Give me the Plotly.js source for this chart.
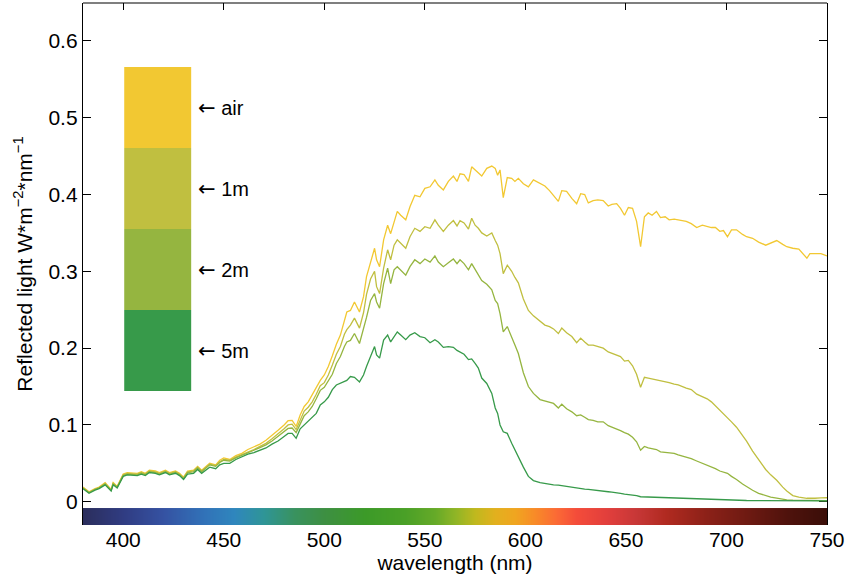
<!DOCTYPE html>
<html>
<head>
<meta charset="utf-8">
<script src="https://cdn.plot.ly/plotly-3.0.1.min.js"></script>
<style>html,body{margin:0;padding:0;background:#fff;}#chart{width:848px;height:584px;}</style>
</head>
<body>
<div id="chart"></div>
<script>
// wavelength samples (nm)
const wavelength = [380,383,386,388,391,394,395,397,400,402,407,409,411,413,416,418,421,423,426,428,430,432,435,437,439,441,443,446,448,450,
453,456,459,462,465,468,471,474,477,480,482,484,486,488,490,492,494,496,498,500,502,504,
506,508,510,511.2,513,515,517.5,519.5,521,523,525,526,527.5,529.5,531.5,533,534.7,536.3,538,540.5,542.6,545,547.6,550,552.6,
555,556.7,559.2,561.7,564.2,566,567.5,569.5,571.7,573.3,575,576.6,578.3,580.8,583.3,585,586.2,587.4,589,591,593.2,594.8,596.5,599,601.5,604,607.3,
609.7,612,614,616.4,618.1,620.5,623.1,625.5,627.5,629.5,631.3,633.7,636,638.7,641.2,643,645.4,647.3,649.3,651.2,
653.3,655.3,657.3,659.2,661.1,663,665.2,667.2,669.5,671.5,674,676,680,682.5,685.2,688,690.4,692.5,694.5,696.7,
698.5,700.5,702.5,705,708,710,713,716,719.5,722,725,728,730,733,736,740,741.5,744,747,750];

const airValues = [0.019,0.013,0.017,0.019,0.025,0.016,0.025,0.020,0.036,0.038,0.037,0.039,0.037,0.041,0.040,0.038,0.041,0.038,0.040,0.037,0.032,0.040,0.041,0.046,0.041,0.046,0.050,0.048,0.054,0.057,
0.055,0.060,0.063,0.068,0.071,0.075,0.080,0.086,0.093,0.100,0.1055,0.106,0.098,0.113,0.124,0.130,0.139,0.148,0.158,0.165,0.176,0.190,
0.205,0.217,0.237,0.247,0.249,0.260,0.247,0.267,0.293,0.310,0.330,0.315,0.306,0.341,0.360,0.349,0.365,0.378,0.373,0.367,0.384,0.399,0.397,0.408,0.410,
0.419,0.412,0.406,0.417,0.424,0.417,0.427,0.426,0.417,0.436,0.432,0.428,0.424,0.434,0.437,0.434,0.425,0.432,0.396,0.422,0.421,0.417,0.421,0.414,0.410,0.419,0.414,
0.411,0.405,0.399,0.391,0.405,0.404,0.395,0.388,0.401,0.400,0.389,0.392,0.393,0.392,0.385,0.387,0.388,0.382,0.373,0.383,
0.382,0.365,0.332,0.371,0.376,0.373,0.378,0.370,0.371,0.367,0.368,0.367,0.365,0.362,0.357,0.360,0.358,0.357,0.357,0.352,
0.353,0.345,0.354,0.354,0.348,0.345,0.343,0.338,0.334,0.337,0.340,0.335,0.332,0.330,0.329,0.317,0.323,0.323,0.323,0.320];

const oneMValues = [0.018,0.012,0.016,0.018,0.024,0.015,0.024,0.019,0.035,0.037,0.036,0.038,0.036,0.040,0.039,0.037,0.040,0.037,0.039,0.036,0.031,0.039,0.040,0.045,0.040,0.045,0.049,0.047,0.052,0.055,
0.054,0.058,0.061,0.065,0.068,0.072,0.076,0.082,0.088,0.095,0.100,0.101,0.094,0.106,0.118,0.123,0.130,0.140,0.151,0.155,0.165,0.178,
0.192,0.202,0.218,0.224,0.230,0.239,0.226,0.246,0.270,0.290,0.300,0.280,0.271,0.304,0.328,0.315,0.334,0.341,0.337,0.330,0.345,0.356,0.352,0.358,0.356,
0.367,0.360,0.352,0.360,0.366,0.359,0.366,0.363,0.355,0.369,0.360,0.356,0.350,0.346,0.350,0.340,0.334,0.323,0.297,0.308,0.300,0.292,0.285,0.264,0.249,0.242,0.235,
0.230,0.228,0.225,0.219,0.226,0.220,0.215,0.207,0.213,0.208,0.204,0.204,0.202,0.200,0.195,0.193,0.191,0.189,0.183,0.184,
0.177,0.166,0.149,0.162,0.161,0.160,0.159,0.157,0.156,0.155,0.153,0.152,0.148,0.146,0.140,0.137,0.134,0.130,0.125,0.119,
0.114,0.110,0.104,0.097,0.087,0.079,0.066,0.055,0.042,0.035,0.028,0.019,0.014,0.008,0.006,0.0045,0.0044,0.0045,0.005,0.0052];

const twoMValues = [0.018,0.012,0.016,0.018,0.023,0.015,0.023,0.019,0.034,0.036,0.035,0.037,0.035,0.039,0.038,0.036,0.039,0.036,0.038,0.035,0.030,0.038,0.039,0.044,0.039,0.044,0.048,0.046,0.051,0.054,
0.053,0.057,0.060,0.064,0.067,0.0705,0.074,0.079,0.085,0.091,0.0955,0.096,0.090,0.101,0.112,0.117,0.124,0.134,0.145,0.149,0.158,0.166,
0.180,0.189,0.202,0.208,0.210,0.219,0.206,0.225,0.240,0.262,0.271,0.260,0.252,0.284,0.304,0.284,0.302,0.306,0.302,0.295,0.306,0.315,0.310,0.316,0.312,
0.320,0.312,0.306,0.311,0.316,0.310,0.315,0.310,0.302,0.310,0.303,0.295,0.288,0.283,0.276,0.262,0.258,0.245,0.221,0.228,0.215,0.204,0.193,0.168,0.150,0.141,0.133,
0.131,0.129,0.128,0.122,0.127,0.121,0.117,0.112,0.113,0.110,0.107,0.106,0.104,0.104,0.099,0.097,0.095,0.0925,0.090,0.088,
0.084,0.078,0.067,0.072,0.070,0.069,0.068,0.065,0.064,0.064,0.063,0.061,0.058,0.056,0.053,0.050,0.048,0.0456,0.043,0.040,
0.039,0.037,0.033,0.029,0.023,0.0195,0.015,0.011,0.008,0.006,0.0048,0.003,0.0025,0.002,0.0018,0.0016,0.0015,0.0015,0.0015,0.0015];

const fiveMValues = [0.017,0.011,0.015,0.017,0.022,0.014,0.022,0.018,0.033,0.035,0.034,0.036,0.034,0.038,0.037,0.035,0.038,0.035,0.037,0.034,0.029,0.036,0.037,0.042,0.037,0.041,0.045,0.043,0.048,0.050,
0.050,0.055,0.0586,0.062,0.064,0.067,0.070,0.075,0.079,0.085,0.089,0.089,0.0825,0.095,0.100,0.104,0.110,0.115,0.126,0.130,0.136,0.146,
0.152,0.154,0.157,0.158,0.163,0.162,0.156,0.165,0.176,0.188,0.202,0.191,0.187,0.2105,0.217,0.208,0.215,0.221,0.217,0.211,0.217,0.220,0.215,0.2135,0.207,
0.211,0.208,0.201,0.202,0.201,0.197,0.195,0.192,0.185,0.186,0.180,0.174,0.161,0.154,0.141,0.122,0.115,0.100,0.091,0.089,0.076,0.067,0.057,0.045,0.033,0.0275,0.0248,
0.0235,0.0225,0.022,0.0217,0.021,0.020,0.019,0.0174,0.017,0.0165,0.016,0.0155,0.015,0.014,0.013,0.0125,0.012,0.011,0.010,0.0095,
0.009,0.008,0.0065,0.0063,0.006,0.006,0.0058,0.0056,0.0055,0.0054,0.0052,0.005,0.0045,0.004,0.0038,0.0035,0.0032,0.003,0.0028,0.0025,
0.0022,0.002,0.002,0.0018,0.0017,0.0016,0.0015,0.0014,0.0013,0.0012,0.0012,0.0011,0.0011,0.001,0.001,0.001,0.001,0.001,0.001,0.001];

const seriesNames = ['air','1m','2m','5m'];
const seriesColors = ['#F2C832','#C0BF40','#95B540','#379A4A'];

// visible-spectrum strip colours
const spectrumWl = [380,400,420,440,455,470,485,500,520,540,555,565,575,585,595,605,615,625,640,655,670,690,710,730,750];
const spectrumColors = ['#2b2e5c','#303c82','#3552a2','#3172b8','#2f86bd','#2f9596','#39925f','#3d8f42','#3c9a28','#4aa027','#66aa28','#8fb526','#c0b81e','#e2b01e','#f0a520','#f88a28','#fb6a35','#f44c3a','#e23f3c','#c73737','#b02a20','#8c2118','#6e1a12','#4f120c','#3a0e08'];

const xTicks = [400,450,500,550,600,650,700,750];
const yTicks = [0,0.1,0.2,0.3,0.4,0.5,0.6];

const FONT = 'Liberation Sans, Arial, sans-serif';
const wlMin = spectrumWl[0], wlMax = spectrumWl[spectrumWl.length-1];

const traces = [];
// spectrum strip
traces.push({
  type:'heatmap',
  x: spectrumWl,
  y: [-0.031, -0.019, -0.0082],
  z: [spectrumWl, spectrumWl],
  colorscale: spectrumWl.map((w,i)=>[(w-wlMin)/(wlMax-wlMin), spectrumColors[i]]),
  zmin: wlMin, zmax: wlMax,
  zsmooth: 'best',
  showscale: false,
  hoverinfo: 'skip'
});
const series = [airValues, oneMValues, twoMValues, fiveMValues];
series.forEach((vals,i)=>{
  traces.push({type:'scatter', mode:'lines', x: wavelength, y: vals, name: seriesNames[i],
    line:{color: seriesColors[i], width:1.3}, hoverinfo:'x+y'});
});

// legend blocks
const blockX0 = 400.5, blockX1 = 433.8;
const blockEdges = [0.566, 0.4605, 0.355, 0.2496, 0.1441];
const shapes = [];
const annotations = [];
seriesNames.forEach((n,i)=>{
  shapes.push({type:'rect', xref:'x', yref:'y', x0:blockX0, x1:blockX1, y0:blockEdges[i+1], y1:blockEdges[i],
    fillcolor: seriesColors[i], line:{width:0}, layer:'above'});
  annotations.push({xref:'x', yref:'y', x:436.3, y:(blockEdges[i]+blockEdges[i+1])/2, xanchor:'left', yanchor:'middle',
    text:'<span style="font-family:DejaVu Sans;font-size:21px">\u2190</span> '+n, showarrow:false, font:{family:FONT, size:20, color:'#000'}});
});
shapes.push({type:'line', xref:'paper', yref:'paper', x0:0, x1:1, y0:1, y1:1, line:{color:'#000', width:1.2}});

const layout = {
  width:848, height:584,
  margin:{l:83, r:21, t:3, b:59},
  paper_bgcolor:'#fff', plot_bgcolor:'#fff',
  showlegend:false,
  font:{family:FONT, size:21, color:'#000'},
  xaxis:{range:[380,750], tickvals:xTicks, ticks:'inside', ticklen:7, tickcolor:'#000', mirror:'ticks',
    showline:false, showgrid:false, zeroline:false, layer:'below traces',
    tickfont:{family:FONT, size:21, color:'#000'},
    title:{text:'wavelength (nm)', font:{family:FONT, size:21, color:'#000'}, standoff:5}},
  yaxis:{range:[-0.0303, 0.6493], tickvals:yTicks, ticktext:yTicks.map(v=>String(v)), ticks:'inside', ticklen:8, tickcolor:'#000',
    mirror:'ticks', showline:true, linecolor:'#000', linewidth:1.2, showgrid:false, zeroline:false, layer:'below traces',
    tickfont:{family:FONT, size:21, color:'#000'},
    title:{text:'Reflected light W*m<sup>\u22122</sup>*nm<sup>\u22121</sup>', font:{family:FONT, size:21, color:'#000'}, standoff:10}},
  shapes: shapes,
  annotations: annotations
};

Plotly.newPlot('chart', traces, layout, {displayModeBar:false, staticPlot:true});
</script>
</body>
</html>
